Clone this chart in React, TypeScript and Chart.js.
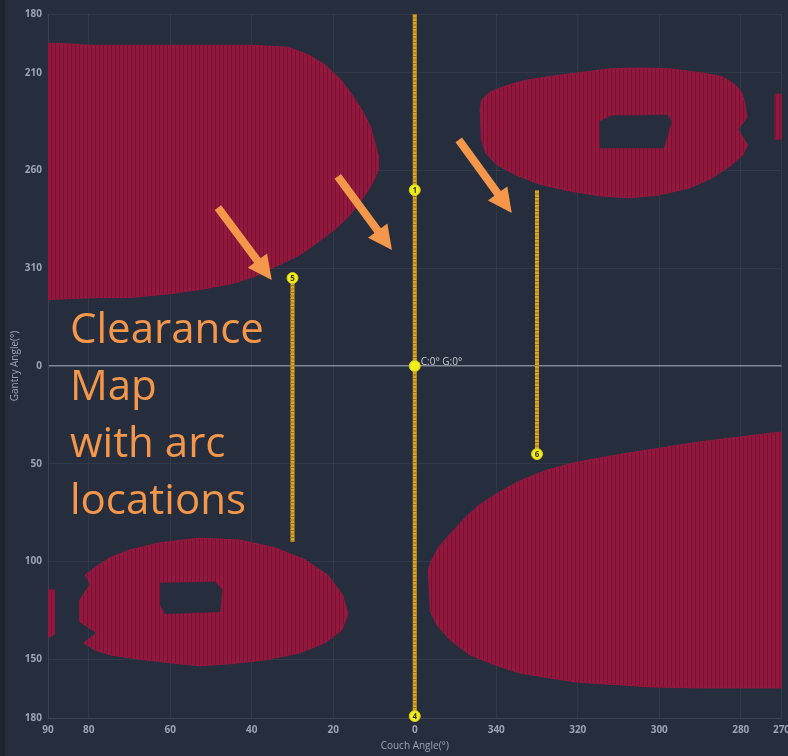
import React, { useEffect, useRef } from 'react';
import { Chart, registerables } from 'chart.js';
Chart.register(...registerables);

// Couch angle stored signed (340° -> -20), gantry angle stored signed (310° -> -50)
const xTicks = [90, 80, 60, 40, 20, 0, -20, -40, -60, -80, -90];
const yTicks = [-180, -150, -100, -50, 0, 50, 100, 150, 180];

// Collision regions (outline vertices)
const blobACouch = [90, 87, 80, 70, 60, 50, 40, 31, 26, 22, 18, 15.5, 13, 11, 10, 9, 9, 10.5, 13, 16, 19.5, 24, 28, 33, 39, 45, 53, 60, 70, 78, 90];
const blobAGantry = [-165, -165, -164, -164, -164, -164, -164, -163, -159, -154, -146, -139, -131, -123, -116, -108, -100, -93, -85, -77, -70, -63, -57, -52, -46, -42, -39, -37, -35, -35, -34];

const blobBCouch = [-16, -16.4, -18.4, -22, -27, -33, -40.5, -48, -55, -62.5, -70, -75.3, -78.5, -80.2, -81, -81.5, -79.3, -81.7, -80.5, -77.2, -72.8, -67.4, -60, -52.7, -45.4, -38, -30.6, -24.5, -20, -17.4, -16.2];
const blobBGantry = [-130, -136, -140, -143, -146, -148, -150, -152, -152.4, -152, -150, -148, -144, -140, -134.5, -127, -121, -113, -108, -102, -96, -91, -87.5, -86, -87, -89.5, -93, -98, -103, -109, -117];
const holeBCouch = [-45.4, -48.3, -62, -63, -61.1, -45.4];
const holeBGantry = [-125, -128, -128.4, -125, -111.5, -111.5];
const stripBCouch = [-88.3, -90, -90, -88.3];
const stripBGantry = [-139, -139, -116, -116];

const blobCCouch = [80.9, 78.5, 74.8, 69.9, 62.5, 52.7, 42.9, 34.3, 27, 21.3, 17.7, 16.4, 17.9, 22.1, 28.2, 36.8, 45.4, 52.7, 60.1, 67.4, 74.8, 78.5, 81.2, 78, 82.2, 82.2, 79.7];
const blobCGantry = [107, 103, 98, 94, 90.4, 88, 89, 93, 99, 107, 117, 127, 135, 141.6, 146.7, 150.3, 152.3, 153.3, 151.8, 150, 147.7, 145.2, 141.6, 136.5, 130.8, 119.6, 112];
const holeCCouch = [62.5, 49, 47.3, 47.8, 61.3, 62.5];
const holeCGantry = [111, 110.4, 114.5, 125.7, 126.7, 122];
const stripCCouch = [90, 88.4, 88.4, 89.4, 90];
const stripCGantry = [114.5, 114.5, 137, 138.5, 138.5];

const blobDCouch = [-3.2, -4.2, -6.1, -9.1, -12.3, -15.9, -20.8, -25.7, -31.9, -38, -45.4, -52.7, -60.1, -69.9, -79.7, -90, -90, -79.7, -69.9, -57.6, -50.3, -45.4, -39.2, -33.1, -25.7, -19.6, -13.5, -8.6, -5.4, -3.7];
const blobDGantry = [105, 99, 92, 85, 77.7, 71, 64.4, 58.8, 53.6, 50, 47, 44.4, 42, 38.8, 36.3, 33.7, 164.6, 164.6, 164.6, 164.1, 163, 162.5, 161.5, 159.5, 157, 152.8, 147.7, 140, 132.4, 124.7];

// Arcs (couch, gantry start, gantry end)
const arcCouch = [0, 30, -30];
const arcStart = [-180, -45, -90];
const arcEnd = [180, 90, 45];

// Arc markers
const markerCouch = [0, 0, 0, 30, -30];
const markerGantry = [-90, 0, 179, -45, 45];
const markerLabels = ['1', '', '4', '5', '6'];
const isoLabel = 'C:0° G:0°';

// Annotation arrows (tail couch/gantry -> head couch/gantry)
const arrowTailCouch = [48.3, 18.9, -10.8];
const arrowTailGantry = [-81, -97, -115.6];
const arrowHeadCouch = [35.1, 5.6, -23.8];
const arrowHeadGantry = [-44, -59.3, -78.3];

const BG = '#262d3d';
const RED = '#93183e';
const RED_DARK = '#761333';
const ORANGE = '#f4974a';
const TICK = '#9ca4b4';

const toLabel = (v: number) => (v < 0 ? v + 360 : v);
const pts = (xs: number[], ys: number[]) => xs.map((x, i) => ({ x, y: ys[i] }));

export default function App() {
  const ref = useRef<HTMLCanvasElement | null>(null);
  useEffect(() => {
    const canvas = ref.current!;
    const pc = document.createElement('canvas');
    pc.width = 4; pc.height = 1;
    const pctx = pc.getContext('2d')!;
    pctx.fillStyle = RED; pctx.fillRect(0, 0, 4, 1);
    pctx.fillStyle = RED_DARK; pctx.fillRect(3, 0, 1, 1);
    const pattern = canvas.getContext('2d')!.createPattern(pc, 'repeat')!;

    const poly = (xs: number[], ys: number[], hole = false) => ({
      data: pts(xs, ys),
      showLine: true,
      fill: 'shape',
      backgroundColor: hole ? BG : pattern,
      borderColor: hole ? BG : RED,
      borderWidth: hole ? 0.5 : 1,
      pointRadius: 0,
      tension: 0,
      order: hole ? 3 : 4,
    });

    const arcSets = arcCouch.flatMap((c, i) => [
      { data: [{ x: c, y: arcStart[i] }, { x: c, y: arcEnd[i] }], showLine: true, borderColor: '#dca424', borderWidth: 4, pointRadius: 0, fill: false, order: 2 },
      { data: [{ x: c, y: arcStart[i] }, { x: c, y: arcEnd[i] }], showLine: true, borderColor: '#9c7218', borderWidth: 4, borderDash: [1, 2.5], pointRadius: 0, fill: false, order: 1 },
    ]);

    const deco = {
      id: 'deco',
      beforeDraw(chart: any) {
        const { ctx, width, height } = chart;
        ctx.save();
        ctx.fillStyle = '#1f2430';
        ctx.fillRect(0, 0, width, height);
        ctx.fillStyle = BG;
        ctx.fillRect(5, 0, width - 5, height);
        ctx.restore();
      },
      afterDatasetsDraw(chart: any) {
        const { ctx, scales } = chart;
        const xs = scales.x, ys = scales.y;
        ctx.save();
        // marker labels
        markerCouch.forEach((c, i) => {
          const px = xs.getPixelForValue(c), py = ys.getPixelForValue(markerGantry[i]);
          ctx.fillStyle = '#3a3a20';
          ctx.font = 'bold 8px "Open Sans"';
          ctx.textAlign = 'center';
          ctx.textBaseline = 'middle';
          ctx.fillText(markerLabels[i], px, py + 0.5);
        });
        // iso label
        ctx.fillStyle = '#c6cbd3';
        ctx.font = '10px "Open Sans"';
        ctx.textAlign = 'left';
        ctx.textBaseline = 'alphabetic';
        ctx.fillText(isoLabel, xs.getPixelForValue(0) + 6, ys.getPixelForValue(0) - 1);
        // arrows
        ctx.fillStyle = ORANGE;
        arrowTailCouch.forEach((c, i) => {
          const x1 = xs.getPixelForValue(c), y1 = ys.getPixelForValue(arrowTailGantry[i]);
          const x2 = xs.getPixelForValue(arrowHeadCouch[i]), y2 = ys.getPixelForValue(arrowHeadGantry[i]);
          const ang = Math.atan2(y2 - y1, x2 - x1);
          const len = Math.hypot(x2 - x1, y2 - y1);
          const hl = 24, hw = 12, sw = 4;
          ctx.save();
          ctx.translate(x1, y1);
          ctx.rotate(ang);
          ctx.beginPath();
          ctx.moveTo(0, -sw);
          ctx.lineTo(len - hl, -sw);
          ctx.lineTo(len - hl, -hw);
          ctx.lineTo(len, 0);
          ctx.lineTo(len - hl, hw);
          ctx.lineTo(len - hl, sw);
          ctx.lineTo(0, sw);
          ctx.closePath();
          ctx.fill();
          ctx.restore();
        });
        ctx.restore();
      },
    };

    const gridColor = 'rgba(255,255,255,0.055)';
    const chart = new Chart(canvas, {
      type: 'scatter',
      data: {
        datasets: [
          poly(blobACouch, blobAGantry),
          poly(blobBCouch, blobBGantry),
          poly(holeBCouch, holeBGantry, true),
          poly(stripBCouch, stripBGantry),
          poly(blobCCouch, blobCGantry),
          poly(holeCCouch, holeCGantry, true),
          poly(stripCCouch, stripCGantry),
          poly(blobDCouch, blobDGantry),
          ...arcSets,
          {
            data: pts(markerCouch, markerGantry),
            pointRadius: 5.5,
            pointBackgroundColor: '#f0ee1c',
            pointBorderColor: '#d8c812',
            pointBorderWidth: 1,
            showLine: false,
            clip: false,
            order: 0,
          },
        ] as any,
      },
      options: {
        responsive: false,
        animation: false,
        devicePixelRatio: 1,
        layout: { padding: { top: 14, right: 6, left: 0, bottom: 0 } },
        plugins: { legend: { display: false }, tooltip: { enabled: false } },
        scales: {
          x: {
            type: 'linear',
            min: -90,
            max: 90,
            reverse: true,
            afterBuildTicks: (s: any) => { s.ticks = xTicks.map((v) => ({ value: v })); },
            afterFit: (s: any) => { s.height = 38; s.paddingLeft = 0; s.paddingRight = 0; },
            ticks: { color: TICK, font: { family: 'Open Sans', size: 10, weight: 'bold' }, padding: 6, maxRotation: 0, autoSkip: false, callback: (v: any) => String(toLabel(Number(v))) },
            grid: { color: gridColor, drawTicks: false },
            border: { color: gridColor },
            title: { display: true, text: 'Couch Angle(°)', color: TICK, font: { family: 'Open Sans', size: 10 }, padding: { top: 4, bottom: 4 } },
          },
          y: {
            type: 'linear',
            min: -180,
            max: 180,
            reverse: true,
            afterBuildTicks: (s: any) => { s.ticks = yTicks.map((v) => ({ value: v })); },
            afterFit: (s: any) => { s.width = 48; s.paddingTop = 0; s.paddingBottom = 0; },
            ticks: { color: TICK, font: { family: 'Open Sans', size: 10, weight: 'bold' }, padding: 6, autoSkip: false, callback: (v: any) => String(toLabel(Number(v))) },
            grid: {
              drawTicks: false,
              color: (c: any) => (c.tick && c.tick.value === 0 ? '#7c8896' : gridColor),
              lineWidth: (c: any) => (c.tick && c.tick.value === 0 ? 1.5 : 1),
            },
            border: { color: gridColor },
            title: { display: true, text: 'Gantry Angle(°)', color: TICK, font: { family: 'Open Sans', size: 10 }, padding: { top: 9, bottom: 4 } },
          },
        },
      } as any,
      plugins: [deco],
    });
    return () => chart.destroy();
  }, []);

  return (
    <div style={{ position: 'absolute', left: 0, top: 0, width: 788, height: 756, background: BG }}>
      <canvas ref={ref} width={788} height={756} style={{ display: 'block', width: 788, height: 756 }} />
      <div
        style={{
          position: 'absolute',
          left: 70,
          top: 298,
          color: ORANGE,
          fontFamily: '"Open Sans", sans-serif',
          fontSize: 42,
          lineHeight: '57px',
          pointerEvents: 'none',
        }}
      >
        <div>Clearance</div>
        <div>Map</div>
        <div>with arc</div>
        <div>locations</div>
      </div>
    </div>
  );
}
